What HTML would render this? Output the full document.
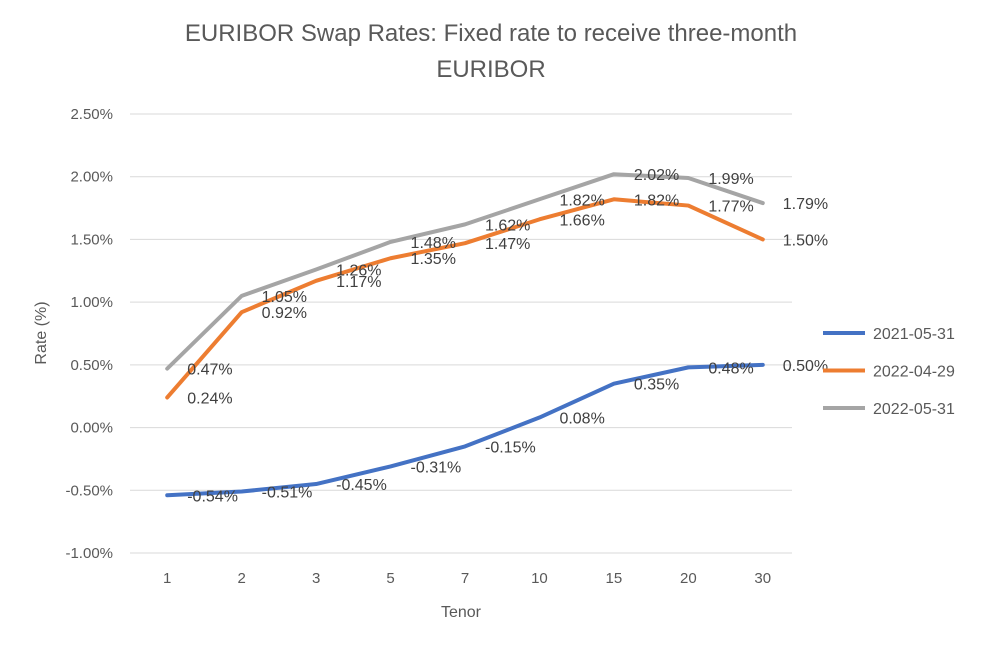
<!DOCTYPE html>
<html><head><meta charset="utf-8">
<style>
html,body{margin:0;padding:0;background:#fff;}
svg text{font-family:"Liberation Sans",Calibri,sans-serif;}
</style></head>
<body>
<svg id="chart" width="986" height="650" viewBox="0 0 986 650" xmlns="http://www.w3.org/2000/svg">
<rect width="986" height="650" fill="#fff"/>
<text x="491" y="41" text-anchor="middle" font-size="24" fill="#595959">EURIBOR Swap Rates: Fixed rate to receive three-month</text>
<text x="491" y="77" text-anchor="middle" font-size="24" fill="#595959">EURIBOR</text>
<g id="grid"></g><g id="yticks"></g><g id="xticks"></g><g id="series"></g><g id="labels"></g><g id="legend"></g>
<text x="46" y="333" text-anchor="middle" font-size="16" fill="#595959" transform="rotate(-90 46 333)">Rate (%)</text>
<text x="461" y="617" text-anchor="middle" font-size="16" fill="#595959">Tenor</text>
</svg>
<script>
const categories=["1","2","3","5","7","10","15","20","30"];
const seriesNames=["2021-05-31","2022-04-29","2022-05-31"];
const s2021=[-0.54,-0.51,-0.45,-0.31,-0.15,0.08,0.35,0.48,0.50];
const s2204=[0.24,0.92,1.17,1.35,1.47,1.66,1.82,1.77,1.50];
const s2205=[0.47,1.05,1.26,1.48,1.62,1.82,2.02,1.99,1.79];
const yTicks=[2.5,2.0,1.5,1.0,0.5,0,-0.5,-1.0];
const colors=["#4472C4","#ED7D31","#A5A5A5"];
const NS="http://www.w3.org/2000/svg";
const x0=130,x1=800,gx1=792,yTop=114,yBot=553,yMax=2.5,yMin=-1.0;
const step=(x1-x0)/categories.length;
function xs(i){return x0+step*(i+0.5);}
function ys(v){return yBot-(v-yMin)/(yMax-yMin)*(yBot-yTop);}
function mk(tag,attrs,parent){const e=document.createElementNS(NS,tag);for(const k in attrs)e.setAttribute(k,attrs[k]);parent.appendChild(e);return e;}
const g=document.getElementById('grid'),yt=document.getElementById('yticks'),xt=document.getElementById('xticks');
yTicks.forEach(v=>{
 const l=mk('line',{x1:x0,x2:gx1,y1:ys(v),y2:ys(v),stroke:'#d9d9d9','stroke-width':1},g);
 
 
 const t=mk('text',{x:113,y:ys(v)+5,'text-anchor':'end','font-size':15,fill:'#595959'},yt);
 t.textContent=v.toFixed(2)+'%';
 
 
});
categories.forEach((c,i)=>{
 const t=mk('text',{x:xs(i),y:583,'text-anchor':'middle','font-size':15,fill:'#595959'},xt);
 t.textContent=c;
 
 
});
const all=[s2021,s2204,s2205];
const sg=document.getElementById('series'),lg=document.getElementById('labels'),leg=document.getElementById('legend');
all.forEach((arr,si)=>{
 const p=mk('polyline',{points:arr.map((v,i)=>xs(i)+','+ys(v)).join(' '),fill:'none',stroke:colors[si],'stroke-width':4,'stroke-linejoin':'round','stroke-linecap':'round'},sg);
 
 
 arr.forEach((v,i)=>{
  const t=mk('text',{x:xs(i)+20,y:ys(v)+6,'font-size':16,fill:'#404040'},lg);
  t.textContent=v.toFixed(2)+'%';
  
  
 });
 const ly=333+si*37.5;
 const ll=mk('line',{x1:823,x2:865,y1:ly,y2:ly,stroke:colors[si],'stroke-width':4},leg);
 
 
 const lt=mk('text',{x:873,y:ly+6,'font-size':16,fill:'#595959'},leg);
 lt.textContent=seriesNames[si];
 
 
});
</script>
</body></html>
